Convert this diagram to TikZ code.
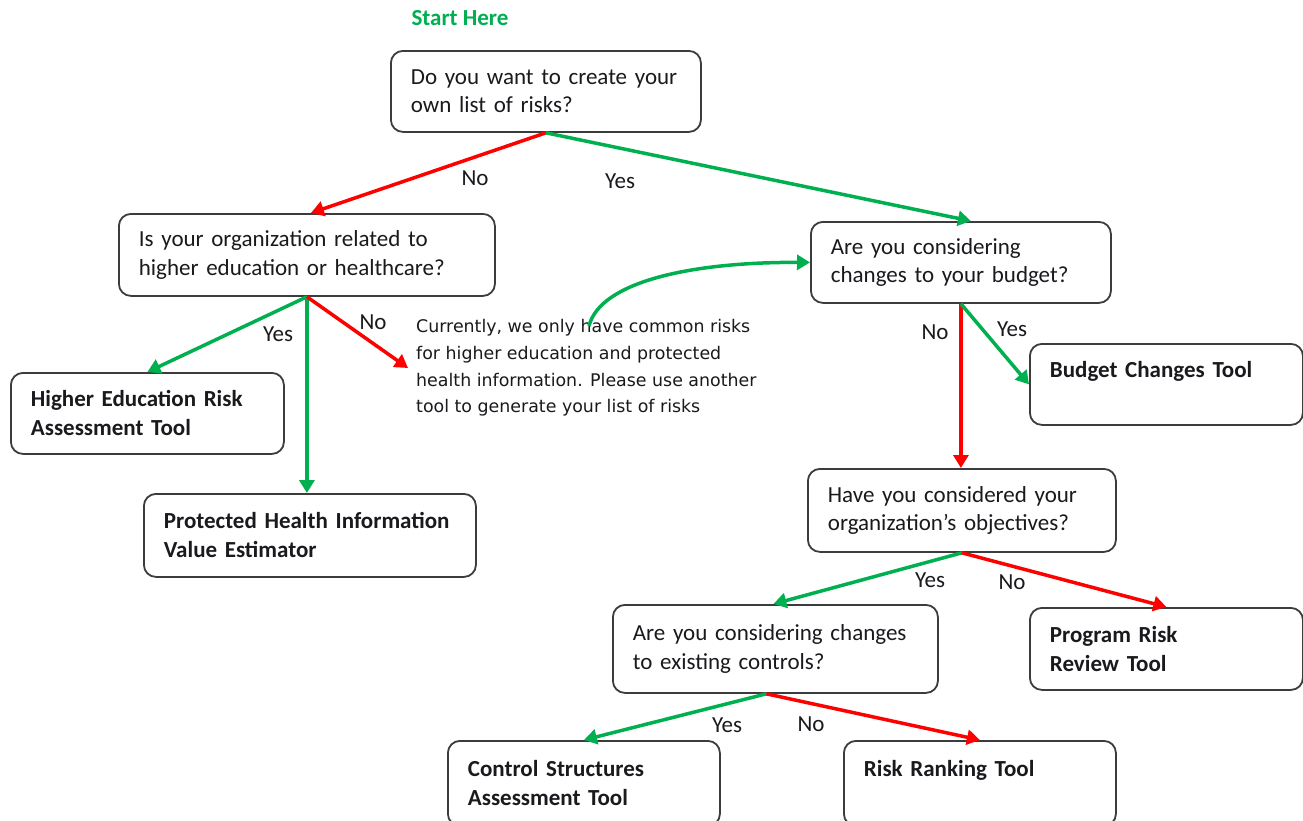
\documentclass[tikz,border=0pt]{standalone}
\usepackage{fontspec}
\setmainfont{Carlito}
\newfontfamily\notefont{DejaVu Sans}
\usetikzlibrary{arrows.meta}
\definecolor{ygreen}{RGB}{0,176,80}
\definecolor{yred}{RGB}{255,0,0}
\definecolor{boxline}{RGB}{60,60,60}
\definecolor{txt}{RGB}{26,26,30}
\begin{document}
\begin{tikzpicture}[x=1pt,y=-1pt,
  box/.style={draw=boxline, line width=1.8pt, rounded corners=12pt, anchor=north west,
    align=left, inner xsep=20pt, inner ysep=0pt, text=txt,
    font=\fontsize{23}{28.5}\selectfont},
  tool/.style={box, font=\fontsize{23}{29}\selectfont\bfseries},
  yesarrow/.style={draw=ygreen, line width=3.5pt, -{Triangle[length=13pt,width=15pt]}},
  noarrow/.style={draw=yred, line width=3.5pt, -{Triangle[length=13pt,width=15pt]}},
  lbl/.style={font=\fontsize{23}{28}\selectfont, text=txt, inner sep=0pt}
]
\clip (0,0) rectangle (1303,820);
\fill[white] (0,0) rectangle (1303,820);

\node[font=\fontsize{23}{28}\selectfont\bfseries, text=ygreen, inner sep=0pt] (start) at (460,18) {Start Here};

\node[box, minimum width=310pt, text width=270pt, minimum height=81pt] (q1) at (390,50)
  {Do you want to create your\\own list of risks?};
\node[box, minimum width=376pt, text width=336pt, minimum height=82pt] (q2) at (118,213)
  {Is your organization related to\\higher education or healthcare?};
\node[tool, minimum width=273pt, text width=233pt, minimum height=81pt] (he) at (10,372)
  {Higher Education Risk\\Assessment Tool};
\node[tool, minimum width=332pt, text width=292pt, minimum height=83pt] (phi) at (143,493)
  {Protected Health Information\\Value Estimator};
\node[box, minimum width=300pt, text width=260pt, minimum height=81pt] (q3) at (810,221)
  {Are you considering\\changes to your budget?};
\node[tool, minimum width=273pt, text width=233pt, minimum height=81pt] (bct) at (1029,343)
  {Budget Changes Tool\\~};
\node[box, minimum width=308pt, text width=268pt, minimum height=83pt] (q4) at (807,468)
  {Have you considered your\\organization’s objectives?};
\node[box, minimum width=325pt, text width=285pt, minimum height=88pt] (q5) at (612,604)
  {Are you considering changes\\to existing controls?};
\node[tool, minimum width=273pt, text width=233pt, minimum height=82pt] (prr) at (1029,607)
  {Program Risk\\Review Tool};
\node[tool, minimum width=272pt, text width=232pt, minimum height=85pt] (csa) at (447,740)
  {Control Structures\\Assessment Tool};
\node[tool, minimum width=272pt, text width=232pt, minimum height=85pt] (rrt) at (843,740)
  {Risk Ranking Tool\\~};

\node[anchor=west, inner xsep=8pt, inner ysep=2pt, align=left, text=txt,
  font=\notefont\fontsize{17.4}{26.7}\selectfont] (note) at (408,368)
  {Currently, we only have common risks\\for higher education and protected\\health information. Please use another\\tool to generate your list of risks};

% connectors
\draw[noarrow] (q1.south) -- ([xshift=4pt]q2.north);
\draw[yesarrow] (q1.south) -- ([xshift=10pt]q3.north);
\draw[yesarrow] (q2.south) -- (he.north);
\draw[yesarrow] (q2.south) -- (q2.south |- phi.north);
\draw[noarrow] (q2.south) -- (note.west);
\coordinate (cstart) at (589,326);
\draw[yesarrow] (cstart) .. controls (600,282) and (690,262) .. (q3.west);
\draw[noarrow] (q3.south) -- (q3.south |- q4.north);
\draw[yesarrow] (q3.south) -- (bct.west);
\draw[yesarrow] (q4.south) -- ([xshift=-2pt]q5.north);
\draw[noarrow] (q4.south) -- (prr.north);
\draw[yesarrow] ([xshift=-9pt]q5.south) -- (csa.north);
\draw[noarrow] ([xshift=-9pt]q5.south) -- (rrt.north);

% labels
\node[lbl] (l1) at (475,178) {No};
\node[lbl] (l2) at (620,181) {Yes};
\node[lbl] (l3) at (278,334) {Yes};
\node[lbl] (l4) at (373,322) {No};
\node[lbl] (l5) at (935,332) {No};
\node[lbl] (l6) at (1012,329) {Yes};
\node[lbl] (l7) at (930,580) {Yes};
\node[lbl] (l8) at (1012,582) {No};
\node[lbl] (l9) at (727,725) {Yes};
\node[lbl] (l10) at (811,724) {No};
\end{tikzpicture}
\end{document}
